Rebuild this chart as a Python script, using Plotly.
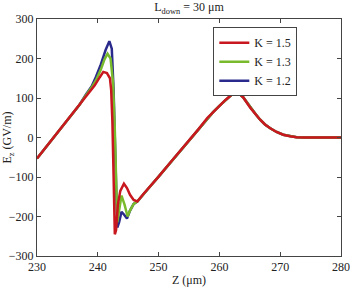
import plotly.graph_objects as go

# Shared portions (all K values coincide here)
z_head = [230, 232, 234, 236, 237]
e_head = [-53, -14, 25, 64, 83]

z_tail = [247.5, 248.6, 250, 252, 254, 255.4, 256.5, 258, 259, 260, 261, 262, 262.6,
          263.3, 263.9, 265.1, 266, 266.7, 267.5, 268.3, 269.4, 270.5, 271.6, 272.7, 274, 277, 280]
e_tail = [-143, -124, -99, -62, -26, 0, 20, 49, 65, 80, 95, 108, 113,
          110, 102, 75, 58, 45, 33, 24, 14, 7, 3, 0.5, 0, 0, 0]

# K = 1.5
z_k15 = [238, 239.5, 240.3, 240.9, 241.5, 242.0, 242.2, 242.4, 242.6, 242.8, 243.0, 243.3,
         243.7, 244.3, 244.8, 245.3, 245.9, 246.5]
e_k15 = [103, 132, 152, 166, 163, 150, 120, 40, -100, -245, -235, -170,
         -135, -117, -128, -145, -158, -162]

# K = 1.3
z_k13 = [238, 239, 239.7, 240.5, 241.1, 241.6, 242.1, 242.5, 242.8, 243.0, 243.2, 243.5,
         243.9, 244.4, 244.9, 245.3, 245.9, 246.5]
e_k13 = [106, 127, 145, 172, 198, 212, 200, 140, 20, -120, -215, -185,
         -147, -170, -200, -185, -168, -162]

# K = 1.2
z_k12 = [238, 239, 239.7, 240.5, 241.3, 241.9, 242.3, 242.6, 242.8, 243.0, 243.2, 243.5,
         243.9, 244.3, 244.8, 245.3, 245.9, 246.5]
e_k12 = [108, 130, 154, 185, 222, 244, 225, 120, 0, -150, -228, -215,
         -188, -195, -205, -185, -168, -162]

series = [
    ("K = 1.2", z_k12, e_k12, "#2a2a8c"),
    ("K = 1.3", z_k13, e_k13, "#78ba2c"),
    ("K = 1.5", z_k15, e_k15, "#c8171e"),
]

x_ticks = [230, 240, 250, 260, 270, 280]
y_ticks = [-300, -200, -100, 0, 100, 200, 300]

font = "Liberation Serif"
fs = 12
fig = go.Figure()
for name, zs, es, col in series:
    fig.add_trace(go.Scatter(
        x=z_head + zs + z_tail, y=e_head + es + e_tail, mode="lines", name=name,
        line=dict(color=col, width=2.5)))

axis_common = dict(showline=True, mirror="ticks", linecolor="#444", linewidth=1,
                   ticks="inside", ticklen=4, tickcolor="#444", showgrid=False,
                   zeroline=False, automargin=False,
                   tickfont=dict(family=font, size=fs, color="#222"))

fig.update_layout(
    width=350, height=287,
    margin=dict(l=37, r=9, t=19, b=31, autoexpand=False),
    paper_bgcolor="white", plot_bgcolor="white",
    font=dict(family=font, size=fs, color="#222"),
    title=dict(text="L<sub>down</sub> = 30 μm", x=0.54, xanchor="center",
               y=0.99, yanchor="top", font=dict(family=font, size=fs)),
    xaxis=dict(range=[230, 280], tickvals=x_ticks,
               title=dict(text="Z (μm)", standoff=2, font=dict(family=font, size=fs)),
               **axis_common),
    yaxis=dict(range=[-300, 300], tickvals=y_ticks,
               title=dict(text="E<sub>z</sub> (GV/m)", standoff=4, font=dict(family=font, size=fs)),
               **axis_common),
    legend=dict(x=0.58, y=0.965, xanchor="left", yanchor="top", traceorder="reversed",
                bordercolor="#444", borderwidth=1, bgcolor="white",
                font=dict(family=font, size=fs), tracegroupgap=0),
    showlegend=True,
)

fig.write_html("out.html", config={"displayModeBar": False},
               post_script="document.body.style.margin='0';document.body.style.overflow='hidden';")
